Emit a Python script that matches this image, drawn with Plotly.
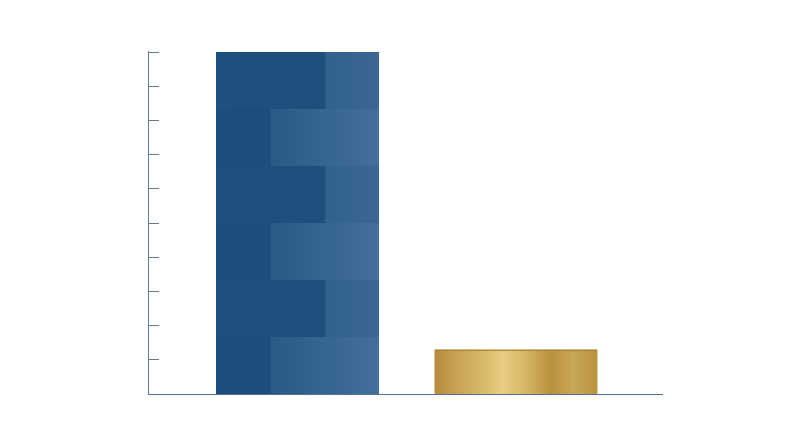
import base64
import plotly.graph_objects as go

# chart data
categories = ["Blue", "Gold"]
values = [10, 1.3]
bar_colors = ["#245483", "#d2b060"]
y_ticks = list(range(0, 11))
bar_width = 0.746

#svg textures for the two bars (brick look + metallic gold)
blue_svg = """<svg xmlns='http://www.w3.org/2000/svg' viewBox='0 0 164 342' preserveAspectRatio='none'>
<defs>
<linearGradient id='a' x1='0' x2='1'><stop offset='0' stop-color='#30608b'/><stop offset='1' stop-color='#3b6892'/></linearGradient>
<linearGradient id='b' x1='0' x2='1'><stop offset='0' stop-color='#2a5986'/><stop offset='1' stop-color='#42709a'/></linearGradient>
<linearGradient id='c' x1='0' x2='1'><stop offset='0' stop-color='#1f4f7e'/><stop offset='1' stop-color='#1e4e7c'/></linearGradient>
</defs>
<rect x='0' y='0' width='164' height='342' rx='2' fill='#1f4f7e'/>
<rect x='0' y='0' width='110' height='57' fill='url(#c)'/><rect x='110' y='0' width='54' height='57' fill='url(#a)'/>
<rect x='0' y='57' width='55' height='57' fill='#1e4d7b'/><rect x='55' y='57' width='109' height='57' fill='url(#b)'/>
<rect x='0' y='114' width='110' height='57' fill='url(#c)'/><rect x='110' y='114' width='54' height='57' fill='url(#a)'/>
<rect x='0' y='171' width='55' height='57' fill='#1e4d7b'/><rect x='55' y='171' width='109' height='57' fill='url(#b)'/>
<rect x='0' y='228' width='110' height='57' fill='url(#c)'/><rect x='110' y='228' width='54' height='57' fill='url(#a)'/>
<rect x='0' y='285' width='55' height='57' fill='#1e4d7b'/><rect x='55' y='285' width='109' height='57' fill='url(#b)'/>
</svg>"""

gold_svg = """<svg xmlns='http://www.w3.org/2000/svg' viewBox='0 0 164 45' preserveAspectRatio='none'>
<defs>
<linearGradient id='g' x1='0' x2='1'>
<stop offset='0' stop-color='#b38c3c'/><stop offset='0.12' stop-color='#c6a052'/>
<stop offset='0.3' stop-color='#d9b96a'/><stop offset='0.42' stop-color='#eacd82'/>
<stop offset='0.55' stop-color='#d8b767'/><stop offset='0.72' stop-color='#b8923e'/>
<stop offset='0.85' stop-color='#c9a65a'/><stop offset='1' stop-color='#b8943f'/>
</linearGradient>
</defs>
<rect x='0' y='0' width='164' height='45' rx='2' fill='url(#g)'/>
<rect x='0' y='0' width='164' height='1.5' fill='#a07f36' opacity='0.8'/>
</svg>"""


def to_uri(svg):
    return "data:image/svg+xml;base64," + base64.b64encode(svg.encode()).decode()


textures = [to_uri(blue_svg), to_uri(gold_svg)]
xpos = list(range(len(categories)))

fig = go.Figure(go.Bar(x=xpos, y=values, width=bar_width,
                       marker=dict(color=bar_colors, line=dict(width=0)),
                       hoverinfo="skip"))

#overlay textures on each bar, sized from the data
images = []
for i, v in enumerate(values):
    images.append(dict(source=textures[i], xref="x", yref="y",
                       x=xpos[i] - bar_width / 2, y=v,
                       sizex=bar_width, sizey=v,
                       xanchor="left", yanchor="top",
                       sizing="stretch", layer="above"))

fig.update_layout(width=800, height=447,
                  margin=dict(l=141, r=145, t=43, b=61),
                  paper_bgcolor="white", plot_bgcolor="white",
                  showlegend=False, images=images,
                  xaxis=dict(range=[-0.68, 1.673], showticklabels=False,
                             showgrid=False, zeroline=False, ticks="",
                             showline=True, linecolor="#4d7196", linewidth=1.2),
                  yaxis=dict(range=[0, 10.03], tickvals=y_ticks, showticklabels=False,
                             showgrid=False, zeroline=False,
                             ticks="inside", ticklen=10, tickcolor="#5f7a93", tickwidth=1.2,
                             showline=True, linecolor="#5f7a93", linewidth=1.2))

fig.write_html("out.html")
